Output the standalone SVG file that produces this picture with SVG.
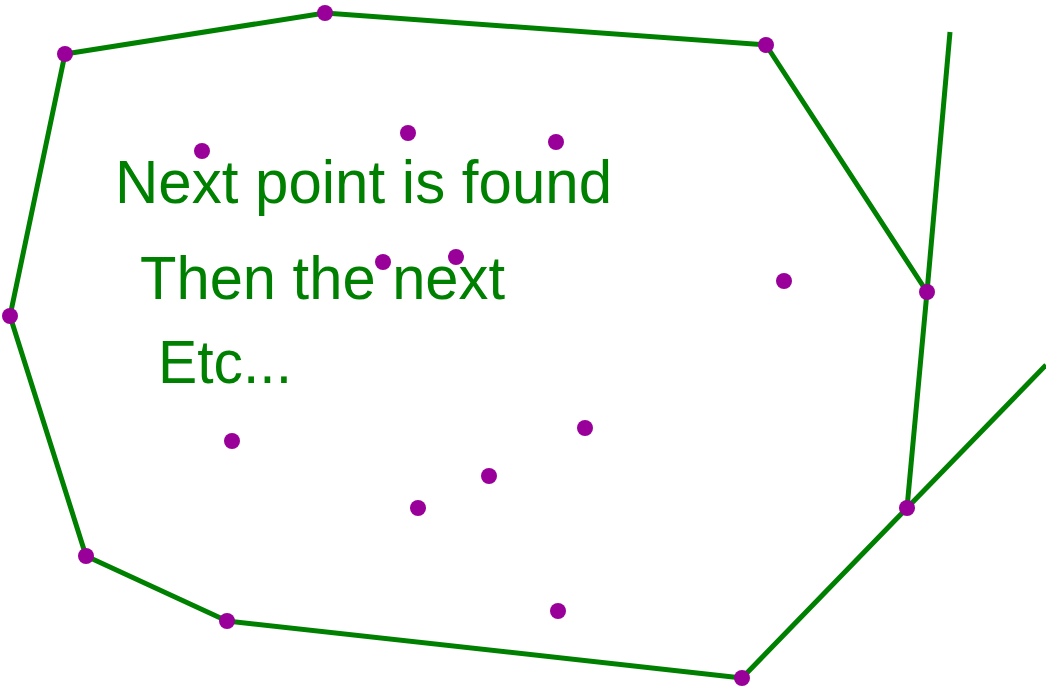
<svg xmlns="http://www.w3.org/2000/svg" width="1046" height="686" viewBox="0 0 1046 686">
<style>
.edge{stroke:#008000;stroke-width:5;fill:none;stroke-linecap:butt;stroke-linejoin:round}
.pt{fill:#990099}
.lbl{fill:#008000;font-family:"Liberation Sans",Arial,sans-serif;font-size:62px}
</style>
<rect width="1046" height="686" fill="#ffffff"/>
<g id="connectors">
<polygon class="edge" points="65,54 325,13 766,45 927,292 907,508 742,678 227,621 86,556 10,316"/>
<line class="edge" x1="927" y1="292" x2="950" y2="32"/>
<line class="edge" x1="907" y1="508" x2="1046" y2="365"/>
</g>
<g id="labels">
<text class="lbl" x="115" y="203" textLength="497" lengthAdjust="spacingAndGlyphs">Next point is found</text>
<text class="lbl" x="140" y="299" textLength="365" lengthAdjust="spacingAndGlyphs">Then the next</text>
<text class="lbl" x="158" y="383" textLength="134" lengthAdjust="spacingAndGlyphs">Etc...</text>
</g>
<g id="hull-points">
<circle id="h1" class="pt" cx="65" cy="54" r="8"/>
<circle id="h2" class="pt" cx="325" cy="13" r="8"/>
<circle id="h3" class="pt" cx="766" cy="45" r="8"/>
<circle id="h4" class="pt" cx="927" cy="292" r="8"/>
<circle id="h5" class="pt" cx="907" cy="508" r="8"/>
<circle id="h6" class="pt" cx="742" cy="678" r="8"/>
<circle id="h7" class="pt" cx="227" cy="621" r="8"/>
<circle id="h8" class="pt" cx="86" cy="556" r="8"/>
<circle id="h9" class="pt" cx="10" cy="316" r="8"/>
</g>
<g id="inner-points">
<circle id="p1" class="pt" cx="202" cy="151" r="8"/>
<circle id="p2" class="pt" cx="408" cy="133" r="8"/>
<circle id="p3" class="pt" cx="556" cy="142" r="8"/>
<circle id="p4" class="pt" cx="383" cy="262" r="8"/>
<circle id="p5" class="pt" cx="456" cy="257" r="8"/>
<circle id="p6" class="pt" cx="784" cy="281" r="8"/>
<circle id="p7" class="pt" cx="232" cy="441" r="8"/>
<circle id="p8" class="pt" cx="585" cy="428" r="8"/>
<circle id="p9" class="pt" cx="489" cy="476" r="8"/>
<circle id="p10" class="pt" cx="418" cy="508" r="8"/>
<circle id="p11" class="pt" cx="558" cy="611" r="8"/>
</g>
</svg>
